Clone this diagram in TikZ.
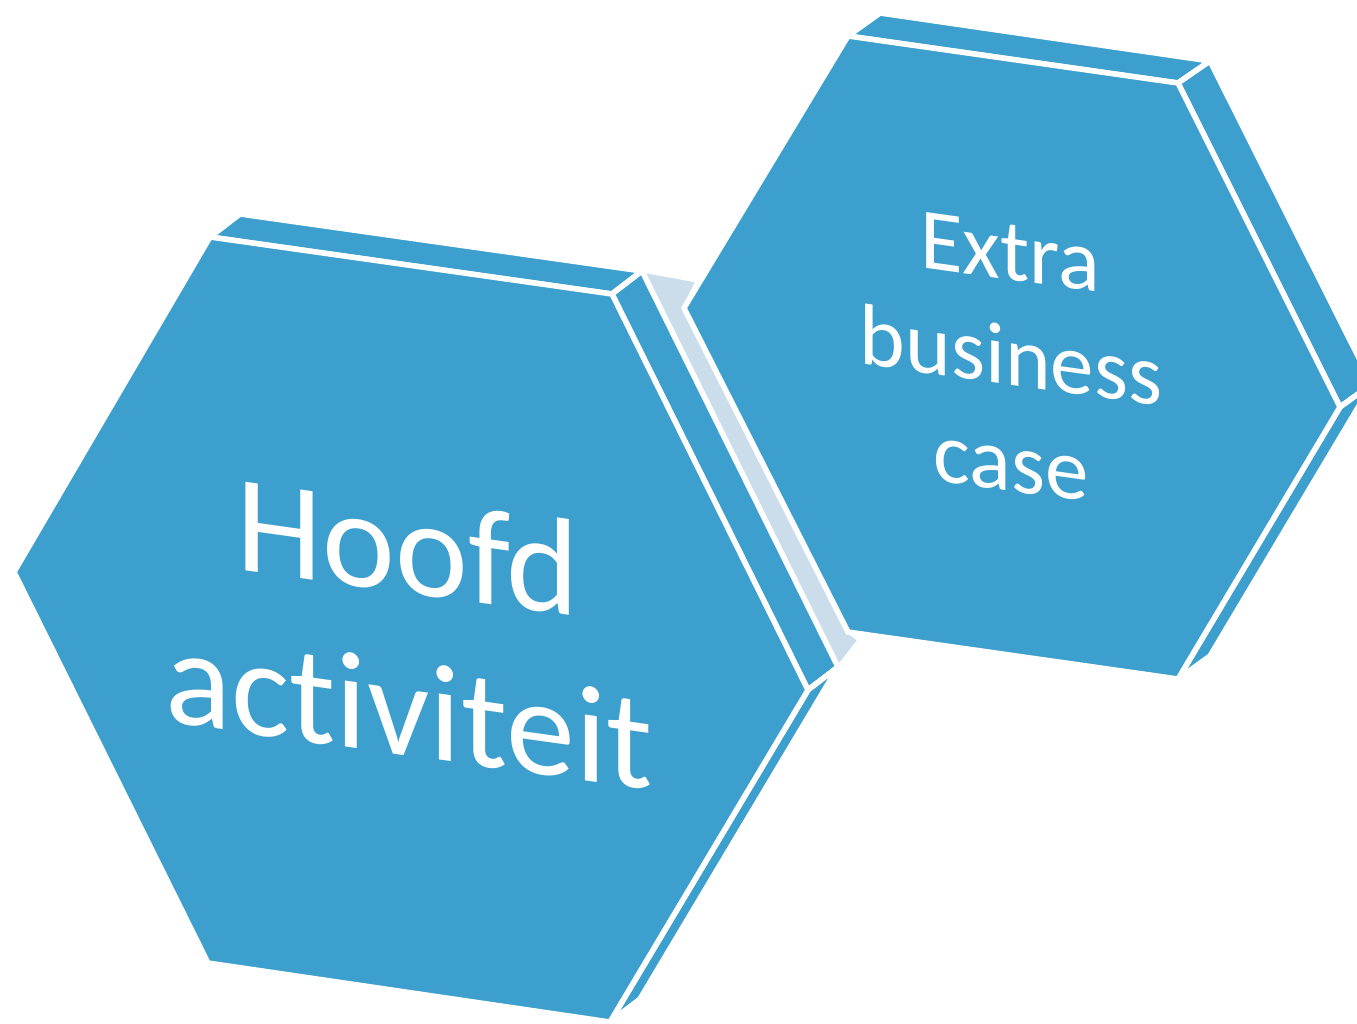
\documentclass[tikz,border=0pt]{standalone}
\usepackage{fontspec}
\setmainfont{Carlito}[Ligatures={NoCommon,NoRequired,NoContextual}]
\definecolor{hexblue}{HTML}{3C9FCD}
\definecolor{hexgray}{HTML}{CBDDEA}
\begin{document}
\begin{tikzpicture}[x=1pt,y=-1pt,
  face/.style={fill=hexblue,draw=white,line width=5.5pt,line join=miter},
  strip/.style={fill=hexgray,draw=white,line width=3pt,line join=miter},
  bigtext/.style={text=white,anchor=base,yslant=-0.14,inner sep=0pt,font=\fontsize{138}{150}\selectfont},
  smalltext/.style={text=white,anchor=base,yslant=-0.14,inner sep=0pt,font=\fontsize{87}{95}\selectfont}]
\useasboundingbox (0,0) rectangle (1357,1023);
% gray strip between the hexagons
\path[strip] (642,271) -- (697,281) -- (684,308) -- (848,632) -- (859,640) -- (838,667) -- cycle;
% left hexagon
\coordinate (lTL) at (210,237);
\coordinate (lTR) at (612,294);
\coordinate (lR)  at (808,690);
\coordinate (lBR) at (610,1022);
\coordinate (lBL) at (208,963);
\coordinate (lL)  at (14,572);
\coordinate (lTLb) at (240,214);
\coordinate (lTRb) at (642,271);
\coordinate (lRb)  at (838,667);
\coordinate (lBRb) at (640,999);
\path[face] (lTL) -- (lTR) -- (lTRb) -- (lTLb) -- cycle;
\path[face] (lTR) -- (lR) -- (lRb) -- (lTRb) -- cycle;
\path[face] (lR) -- (lBR) -- (lBRb) -- (lRb) -- cycle;
\path[face] (lTL) -- (lTR) -- (lR) -- (lBR) -- (lBL) -- (lL) -- cycle;
% right hexagon
\coordinate (rTL) at (848,36);
\coordinate (rTR) at (1178,83);
\coordinate (rR)  at (1340,407);
\coordinate (rBR) at (1178,679);
\coordinate (rBL) at (848,632);
\coordinate (rL)  at (684,308);
\coordinate (rTLb) at (880,13);
\coordinate (rTRb) at (1210,61);
\coordinate (rRb)  at (1372,384);
\coordinate (rBRb) at (1210,656);
\path[face] (rTL) -- (rTR) -- (rTRb) -- (rTLb) -- cycle;
\path[face] (rTR) -- (rR) -- (rRb) -- (rTRb) -- cycle;
\path[face] (rR) -- (rBR) -- (rBRb) -- (rRb) -- cycle;
\path[face] (rTL) -- (rTR) -- (rR) -- (rBR) -- (rBL) -- (rL) -- cycle;
% texts
\node[bigtext] (hoofd) at (408,593) {Hoofd};
\node[bigtext] (activiteit) at (409,756) {activiteit};
\node[smalltext] (extra) at (1010,280) {Extra};
\node[smalltext] (business) at (1011,385) {business};
\node[smalltext] (case) at (1011,491) {case};
\end{tikzpicture}
\end{document}
